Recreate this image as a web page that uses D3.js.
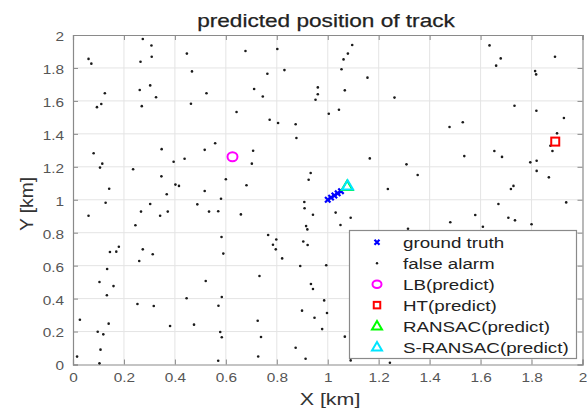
<!DOCTYPE html>
<html><head><meta charset="utf-8">
<script src="https://cdn.jsdelivr.net/npm/d3@7"></script>
<style>body{margin:0;background:#fff}svg{display:block}text{font-family:"Liberation Sans",Arial,sans-serif}</style>
</head><body>
<svg id="c" width="587" height="408"></svg>
<script>
const titleText = "predicted position of track";
const xLabel = "X [km]";
const yLabel = "Y [km]";
const xTicks = [0,0.2,0.4,0.6,0.8,1,1.2,1.4,1.6,1.8,2];
const yTicks = [0,0.2,0.4,0.6,0.8,1,1.2,1.4,1.6,1.8,2];
const legendLabels = ["ground truth","false alarm","LB(predict)","HT(predict)","RANSAC(predict)","S-RANSAC(predict)"];

const truthX = [1.000,1.013,1.026,1.039,1.052];
const truthY = [1.000,1.013,1.026,1.039,1.052];
const lbPoint = [0.626,1.261];
const htPoint = [1.893,1.353];
const ransacPoint = [1.076,1.082];
const sransacPoint = [1.078,1.085];

const falseX = [0.061,0.072,0.274,0.308,0.309,0.265,0.447,0.677,0.802,0.830,0.467,0.763,0.262,0.303,0.125,0.326,0.524,0.711,0.745,0.961,0.961,0.952,0.111,0.094,0.270,0.463,0.642,0.772,0.805,0.874,0.877,1.004,0.081,0.558,0.348,0.517,0.707,0.115,0.106,0.236,0.395,0.438,0.702,0.933,0.925,0.347,0.600,0.142,0.402,0.416,0.681,0.368,0.517,0.581,0.908,0.128,0.303,0.488,
1.096,1.079,1.062,1.054,1.156,1.067,1.262,1.044,1.635,1.679,1.661,1.892,1.814,1.818,1.733,1.819,1.927,1.530,1.478,1.900,1.874,1.882,1.165,1.536,1.654,1.684,1.795,1.820,1.820,1.309,1.353,1.868,1.236,1.729,1.719,1.936,1.670,
0.061,0.267,0.342,0.372,0.534,0.570,0.659,0.909,0.942,0.245,0.915,0.920,0.766,0.583,0.798,0.785,0.904,0.921,0.180,0.170,0.145,0.274,0.313,0.590,0.796,0.821,0.260,0.134,0.892,0.994,0.732,0.104,0.521,0.159,0.934,0.942,0.133,0.446,0.584,0.986,0.253,0.317,0.571,0.899,0.997,0.027,0.725,0.948,0.140,0.475,0.381,0.097,0.119,0.578,0.584,0.738,0.978,0.874,0.108,0.016,0.727,0.913,0.104,0.570,
1.031,1.090,1.050,1.315,1.481,1.579,1.609,1.709,1.735,1.800,1.067,1.090,1.244];
const falseY = [1.855,1.826,1.976,1.936,1.868,1.838,1.887,1.903,1.915,1.787,1.779,1.765,1.666,1.694,1.646,1.622,1.646,1.672,1.627,1.682,1.640,1.607,1.581,1.562,1.568,1.583,1.533,1.486,1.466,1.458,1.375,1.522,1.282,1.343,1.307,1.303,1.297,1.219,1.195,1.185,1.231,1.249,1.219,1.162,1.121,1.142,1.124,1.067,1.092,1.084,1.088,1.033,1.053,1.006,0.986,0.982,0.974,0.972,
1.939,1.887,1.852,1.792,1.741,1.664,1.620,1.546,1.937,1.858,1.814,1.868,1.781,1.761,1.571,1.540,1.496,1.470,1.442,1.403,1.328,1.296,1.251,1.265,1.296,1.260,1.227,1.237,1.175,1.215,1.150,1.136,1.065,1.084,1.065,0.984,0.974,
0.903,0.928,0.903,0.928,0.928,0.930,0.911,0.948,0.909,0.845,0.840,0.820,0.786,0.774,0.759,0.727,0.747,0.725,0.715,0.685,0.683,0.699,0.669,0.673,0.699,0.644,0.628,0.580,0.598,0.602,0.537,0.501,0.507,0.476,0.489,0.458,0.420,0.402,0.410,0.389,0.367,0.355,0.357,0.327,0.313,0.272,0.266,0.284,0.248,0.242,0.234,0.199,0.183,0.197,0.165,0.167,0.215,0.102,0.090,0.048,0.049,0.035,0.007,0.023,
0.922,0.891,0.847,0.824,0.863,0.907,0.836,0.891,0.875,0.851,0.169,0.025,0.011];

const L = 73, R = 582.5, T = 35, B = 364.5;
const svg = d3.select("#c");
const x = d3.scaleLinear().domain([0,2]).range([L,R]);
const y = d3.scaleLinear().domain([0,2]).range([B,T]);

function stretch(sel, f){
  sel.each(function(){
    const len = this.getComputedTextLength();
    d3.select(this).attr("textLength", len*f).attr("lengthAdjust","spacingAndGlyphs");
  });
}

// grid
const grid = svg.append("g");
grid.selectAll("line.vx").data(xTicks.slice(1,-1)).join("line")
  .attr("x1",d=>x(d)).attr("x2",d=>x(d)).attr("y1",T).attr("y2",B)
  .attr("stroke","#e4e4e4").attr("stroke-width",1);
grid.selectAll("line.hy").data(yTicks.slice(1,-1)).join("line")
  .attr("x1",L).attr("x2",R).attr("y1",d=>y(d)).attr("y2",d=>y(d))
  .attr("stroke","#e4e4e4").attr("stroke-width",1);

// axes (inside ticks, MATLAB style)
const axColor = "#8a8a8a";
const xAxisB = svg.append("g").attr("transform",`translate(0,${B})`)
  .call(d3.axisBottom(x).tickValues(xTicks).tickSize(-5).tickPadding(8).tickFormat(d3.format("")));
const xAxisT = svg.append("g").attr("transform",`translate(0,${T})`)
  .call(d3.axisTop(x).tickValues(xTicks).tickSize(-5).tickFormat(""));
const yAxisL = svg.append("g").attr("transform",`translate(${L},0)`)
  .call(d3.axisLeft(y).tickValues(yTicks).tickSize(-5).tickPadding(9).tickFormat(d3.format("")));
const yAxisR = svg.append("g").attr("transform",`translate(${R},0)`)
  .call(d3.axisRight(y).tickValues(yTicks).tickSize(-5).tickFormat(""));
[xAxisB,xAxisT,yAxisL,yAxisR].forEach(a=>{
  a.select(".domain").attr("stroke",axColor).attr("stroke-width",1.2);
  a.selectAll(".tick line").attr("stroke",axColor);
});
xAxisB.selectAll(".tick text").attr("font-size",12).attr("fill","#555").attr("font-family","Liberation Sans, Arial, sans-serif").attr("dy","0.8em");
yAxisL.selectAll(".tick text").attr("font-size",12).attr("fill","#555").attr("font-family","Liberation Sans, Arial, sans-serif").attr("dy","0.45em");
stretch(xAxisB.selectAll(".tick text"),1.28);
stretch(yAxisL.selectAll(".tick text"),1.28);

// false alarms
const pts = falseX.map((v,i)=>[v,falseY[i]]);
svg.append("g").selectAll("circle").data(pts).join("circle")
  .attr("cx",d=>x(d[0])).attr("cy",d=>y(d[1])).attr("r",1.3).attr("fill","#1a1a1a");

// marker helpers
function drawX(g,cx,cy,s){
  g.append("path").attr("d",`M${cx-s},${cy-s}L${cx+s},${cy+s}M${cx-s},${cy+s}L${cx+s},${cy-s}`)
    .attr("stroke","#0000ff").attr("stroke-width",2.2).attr("fill","none");
}
function drawTri(g,cx,cy,s,color){
  const h = s*0.85;
  g.append("path").attr("d",`M${cx},${cy-h*0.6}L${cx+s/2},${cy+h*0.4}L${cx-s/2},${cy+h*0.4}Z`)
    .attr("stroke",color).attr("stroke-width",2).attr("fill","none");
}
function drawCircle(g,cx,cy,rx,ry){
  g.append("ellipse").attr("cx",cx).attr("cy",cy).attr("rx",rx).attr("ry",ry)
    .attr("stroke","#ff00ff").attr("stroke-width",2).attr("fill","none");
}
function drawSquare(g,cx,cy,s){
  g.append("rect").attr("x",cx-s/2).attr("y",cy-s/2).attr("width",s).attr("height",s)
    .attr("stroke","#ff0000").attr("stroke-width",2).attr("fill","none");
}

const mk = svg.append("g");
truthX.forEach((v,i)=>drawX(mk,x(v),y(truthY[i]),2.7));
drawCircle(mk,x(lbPoint[0]),y(lbPoint[1]),5,4.5);
drawSquare(mk,x(htPoint[0]),y(htPoint[1]),8);
drawTri(mk,x(ransacPoint[0]),y(ransacPoint[1]),11,"#00ff00");
drawTri(mk,x(sransacPoint[0]),y(sransacPoint[1]),11,"#00e5ff");

// legend
const lg = svg.append("g");
lg.append("rect").attr("x",349.5).attr("y",230.5).attr("width",227).attr("height",128)
  .attr("fill","#fff").attr("stroke","#8a8a8a").attr("stroke-width",1.2);
const rowY = d3.scalePoint().domain(legendLabels).range([242.3,347]);
const mx = 377;
legendLabels.forEach((lab,i)=>{
  const cy = rowY(lab);
  if(i===0) drawX(lg,mx,cy,2.5);
  else if(i===1) lg.append("circle").attr("cx",mx).attr("cy",cy).attr("r",1.2).attr("fill","#1a1a1a");
  else if(i===2) drawCircle(lg,mx,cy,4.5,3.8);
  else if(i===3) drawSquare(lg,mx,cy,6.5);
  else if(i===4) drawTri(lg,mx,cy,10,"#00ff00");
  else drawTri(lg,mx,cy,10,"#00e5ff");
});
const lt = lg.selectAll("text").data(legendLabels).join("text")
  .attr("x",403).attr("y",d=>rowY(d)+5.5).attr("font-size",15.5).attr("fill","#222").text(d=>d);
stretch(lt,1.21);

// titles
const tt = svg.append("text").attr("x",326).attr("y",26.5).attr("text-anchor","middle")
  .attr("font-size",19).attr("fill","#222").attr("stroke","#222").attr("stroke-width",0.25).text(titleText);
stretch(tt,1.19);
const xl = svg.append("text").attr("x",330).attr("y",405).attr("text-anchor","middle")
  .attr("font-size",17).attr("fill","#333").text(xLabel);
stretch(xl,1.26);
const yl = svg.append("text").attr("transform","translate(33,204) rotate(-90)").attr("text-anchor","middle")
  .attr("font-size",17.5).attr("fill","#333").text(yLabel);
stretch(yl,1.1);
</script>
</body></html>
